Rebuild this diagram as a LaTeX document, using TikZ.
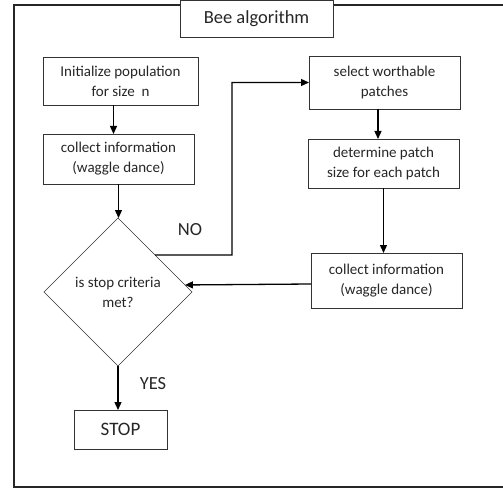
\documentclass[tikz,border=0pt]{standalone}
\usepackage{fontspec}
\setmainfont{Carlito}
\usetikzlibrary{shapes.geometric,arrows.meta}
\begin{document}
\begin{tikzpicture}[x=1pt,y=-1pt,
  box/.style={draw=black!80,line width=0.9pt,inner sep=0pt,outer sep=0pt,align=center,
    font=\fontsize{15}{20}\selectfont,text=black!85},
  arr/.style={line width=1.3pt,-{Triangle[length=8pt,width=7pt]}},
  lbl/.style={font=\fontsize{18.5}{22}\selectfont,text=black!85}]
\useasboundingbox (0,0) rectangle (503,489);
\draw[line width=1.4pt,black!85] (14,5) rectangle (508,487);
\node[box,fill=white,minimum width=153pt,minimum height=37pt,font=\fontsize{18.5}{22}\selectfont] (title) at (256.5,18.5) {Bee algorithm};
\node[box,minimum width=155pt,minimum height=48pt] (init) at (120.5,81) {Initialize population\\for size~~n};
\node[box,minimum width=151pt,minimum height=50pt] (col1) at (118.5,159) {collect information\\(waggle dance)};
\node[box,shape=diamond,aspect=1,minimum width=148pt,minimum height=148pt,line width=0.7pt] (dia) at (118,292) {is stop criteria\\met?};
\node[box,minimum width=93pt,minimum height=39pt,font=\fontsize{19}{22}\selectfont] (stop) at (120.5,429.5) {STOP};
\node[box,minimum width=151pt,minimum height=53pt] (sel) at (384.5,82.5) {select worthable\\patches};
\node[box,minimum width=151pt,minimum height=49pt] (det) at (383.5,163.5) {determine patch\\size for each patch};
\node[box,minimum width=151pt,minimum height=55pt] (col2) at (386.5,280.5) {collect information\\(waggle dance)};
\node[lbl] (no) at (190,230) {NO};
\node[lbl] (yes) at (153,384) {YES};
\coordinate (nc) at (232,255);
\draw[arr] ([xshift=-7pt]init.south) -- ([xshift=-7pt]init.south |- col1.north);
\draw[arr] (col1.south) -- (col1.south |- dia.north);
\draw[arr] ([xshift=-6.5pt]sel.south) -- ([xshift=-6.5pt]sel.south |- det.north);
\draw[arr] (det.south) -- (det.south |- col2.north);
\draw[arr] ([yshift=-3.5pt]col2.west) -- (dia.6.9);
\draw[arr] (dia.45) -- (nc) |- (sel.west);
\draw[arr] (dia.south) -- (dia.south |- stop.north);
\end{tikzpicture}
\end{document}
